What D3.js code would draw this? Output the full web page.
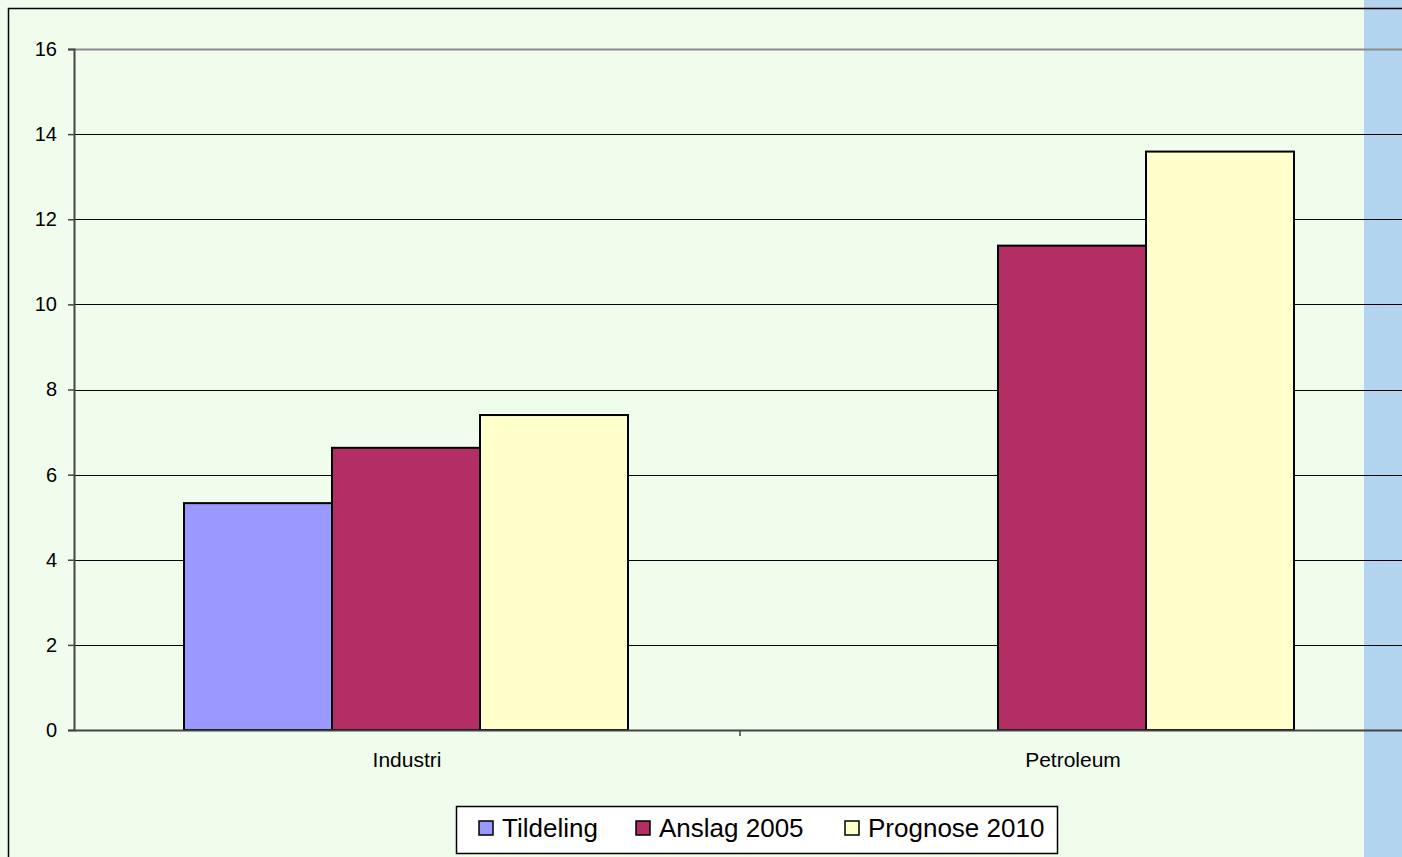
<!DOCTYPE html>
<html>
<head>
<meta charset="utf-8">
<script src="https://cdn.jsdelivr.net/npm/d3@7"></script>
<style>
  body { margin: 0; background: #f0fcec; overflow: hidden; }
  text { font-family: "Liberation Sans", Arial, sans-serif; fill: #000; }
</style>
</head>
<body>
<div id="chart"></div>
<script>
"use strict"

// data
const categories = ["Industri", "Petroleum"];
const seriesNames = ["Tildeling", "Anslag 2005", "Prognose 2010"];
const tildeling = [5.33, null];
const anslag2005 = [6.63, 11.38];
const prognose2010 = [7.40, 13.59];
const yTicks = [0, 2, 4, 6, 8, 10, 12, 14, 16];

const seriesValues = [tildeling, anslag2005, prognose2010];
const seriesColors = ["#9999ff", "#b32e64", "#ffffcc"];

const W = 1402, H = 857;
const margin = {top: 49, left: 74};
const plotW = 1332, plotH = 681;

let svg = d3.select("#chart")
  .append("svg")
  .attr("width", W)
  .attr("height", H);

// page strip on the right
svg.append("rect")
  .attr("x", 1364).attr("y", 0)
  .attr("width", W - 1364).attr("height", H)
  .attr("fill", "#b2d4ee");

// chart border
svg.append("rect")
  .attr("x", 8.5).attr("y", 8.5)
  .attr("width", W + 20).attr("height", H + 20)
  .attr("fill", "none")
  .attr("stroke", "#000")
  .attr("stroke-width", 1.5);

let g = svg.append("g")
  .attr("transform", "translate(" + margin.left + "," + margin.top + ")");

let x = d3.scaleBand()
  .domain(categories)
  .range([0, plotW]);

let x1 = d3.scaleBand()
  .domain(d3.range(seriesNames.length))
  .range([0, x.bandwidth()])
  .paddingInner(0)
  .paddingOuter(0.75);

let y = d3.scaleLinear()
  .domain([0, 16])
  .range([plotH, 0]);

// gridlines
g.append("g")
  .selectAll("line")
  .data(yTicks.filter(d => d > 0))
  .enter()
  .append("line")
  .attr("x1", 0).attr("x2", plotW)
  .attr("y1", d => Math.round(y(d)) + 0.5)
  .attr("y2", d => Math.round(y(d)) + 0.5)
  .attr("stroke", d => d === 16 ? "#8c8c8c" : "#000")
  .attr("stroke-width", d => d === 16 ? 2 : 1);

// bars
let data = [];
categories.forEach(function(c, i) {
  seriesValues.forEach(function(vals, s) {
    if (vals[i] != null) data.push({cat: c, s: s, value: vals[i]});
  });
});

g.append("g")
  .selectAll("rect")
  .data(data)
  .enter()
  .append("rect")
  .attr("x", d => x(d.cat) + x1(d.s) - 1)
  .attr("y", d => y(d.value))
  .attr("width", x1.bandwidth())
  .attr("height", d => plotH - y(d.value))
  .attr("fill", d => seriesColors[d.s])
  .attr("stroke", "#000")
  .attr("stroke-width", 2);

// y axis
let yAxis = g.append("g")
  .call(d3.axisLeft(y).tickValues(yTicks).tickSize(6).tickPadding(11).tickFormat(d3.format("d")));
yAxis.select(".domain").attr("stroke", "#444").attr("stroke-width", 2);
yAxis.selectAll(".tick line").attr("stroke", "#444").attr("stroke-width", 1.5);
yAxis.selectAll("text").style("font-size", "20px").attr("fill", "#000");

// x axis
let xAxis = g.append("g")
  .attr("transform", "translate(0," + plotH + ")")
  .call(d3.axisBottom(x).tickSize(0).tickPadding(22));
xAxis.select(".domain").attr("stroke", "#444").attr("stroke-width", 2);
xAxis.selectAll("text").style("font-size", "21px").attr("fill", "#000");
xAxis.append("g")
  .selectAll("line")
  .data(categories.slice(1))
  .enter()
  .append("line")
  .attr("x1", d => x(d)).attr("x2", d => x(d))
  .attr("y1", 0).attr("y2", 6)
  .attr("stroke", "#444").attr("stroke-width", 1.5);

// legend
let legend = svg.append("g").attr("transform", "translate(456,806)");
legend.append("rect")
  .attr("x", 0.5).attr("y", 0.5)
  .attr("width", 601).attr("height", 47)
  .attr("fill", "#fff")
  .attr("stroke", "#000")
  .attr("stroke-width", 1.5);

const legendX = [23, 180, 389];
let items = legend.selectAll(".item")
  .data(seriesNames)
  .enter()
  .append("g")
  .attr("class", "item")
  .attr("transform", (d, i) => "translate(" + legendX[i] + ",0)");
items.append("rect")
  .attr("x", 0).attr("y", 15)
  .attr("width", 14).attr("height", 14)
  .attr("fill", (d, i) => seriesColors[i])
  .attr("stroke", "#000")
  .attr("stroke-width", 1.5);
items.append("text")
  .attr("x", 23).attr("y", 31)
  .style("font-size", "26px")
  .text(d => d);
</script>
</body>
</html>
